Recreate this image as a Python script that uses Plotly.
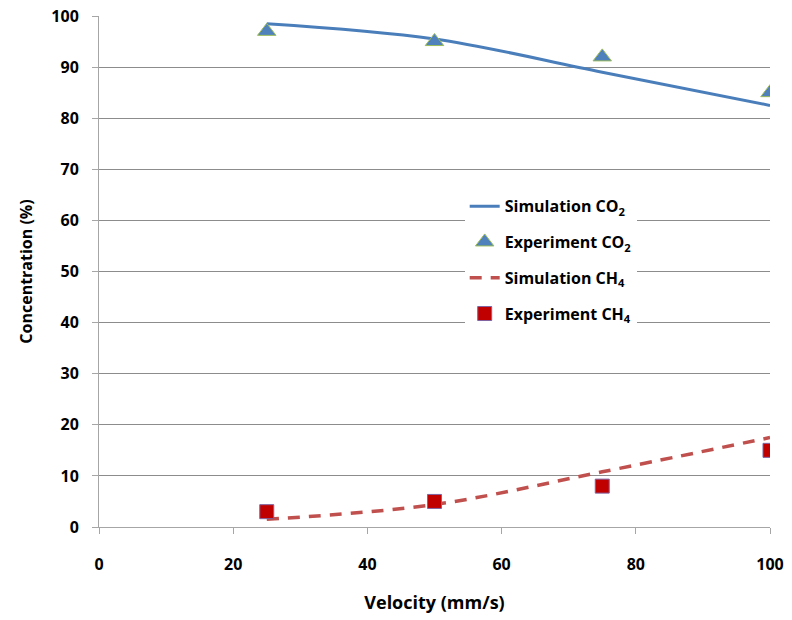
import plotly.graph_objects as go

# Velocity (mm/s)
velocity = [25, 50, 75, 100]

# Concentrations (%)
sim_co2 = [98.5, 95.5, 89.0, 82.5]
exp_co2 = [97, 95, 92, 85]
sim_ch4 = [1.5, 4.4, 10.8, 17.5]
exp_ch4 = [3, 5, 8, 15]

x_ticks = [0, 20, 40, 60, 80, 100]
y_ticks = [0, 10, 20, 30, 40, 50, 60, 70, 80, 90, 100]

FONT = "Open Sans"

fig = go.Figure()
fig.add_trace(go.Scatter(
    x=velocity, y=sim_co2, mode="lines", line_shape="spline",
    name="Simulation CO<sub>2</sub>", legendgroup="a",
    line=dict(color="#4a7ebb", width=3),
))
fig.add_trace(go.Scatter(
    x=velocity, y=exp_co2, mode="markers",
    name="Experiment CO<sub>2</sub>", legendgroup="b",
    marker=dict(symbol="triangle-up", size=16, color="#4f81bd",
                line=dict(color="#9bbb59", width=1)),
))
fig.add_trace(go.Scatter(
    x=velocity, y=sim_ch4, mode="lines", line_shape="spline",
    name="Simulation CH<sub>4</sub>", legendgroup="c",
    line=dict(color="#c0504d", width=3.5, dash="12px,9px"),
))
fig.add_trace(go.Scatter(
    x=velocity, y=exp_ch4, mode="markers",
    name="Experiment CH<sub>4</sub>", legendgroup="d",
    marker=dict(symbol="square", size=14, color="#c00000",
                line=dict(color="#8064a2", width=1)),
))

fig.update_layout(
    width=792, height=620,
    margin=dict(l=99, r=22, t=16, b=93),
    plot_bgcolor="white", paper_bgcolor="white",
    font=dict(family=FONT, size=16, color="black", weight="bold"),
    showlegend=True,
    legend=dict(
        x=0.545, y=0.661, xanchor="left", yanchor="top",
        bgcolor="rgba(255,255,255,1)",
        font=dict(family=FONT, size=16, color="black", weight="bold"),
        tracegroupgap=12,
    ),
    xaxis=dict(
        range=[0, 100], tickvals=x_ticks, showgrid=False, automargin=False,
        showline=True, linecolor="#a6a6a6", linewidth=1,
        ticks="outside", ticklen=6, tickcolor="#a6a6a6",
        ticklabelstandoff=17, zeroline=False,
        title=dict(text="Velocity (mm/s)", font=dict(size=18, weight="bold"), standoff=22),
    ),
    yaxis=dict(
        range=[0, 100], tickvals=y_ticks, showgrid=True, automargin=False,
        gridcolor="#8c8c8c", gridwidth=1,
        showline=True, linecolor="#a6a6a6", linewidth=1,
        ticks="outside", ticklen=6, tickcolor="#a6a6a6",
        ticklabelstandoff=10, zeroline=False,
        title=dict(text="Concentration (%)", font=dict(size=16, weight="bold"), standoff=14),
    ),
)

fig.write_html("out.html")
